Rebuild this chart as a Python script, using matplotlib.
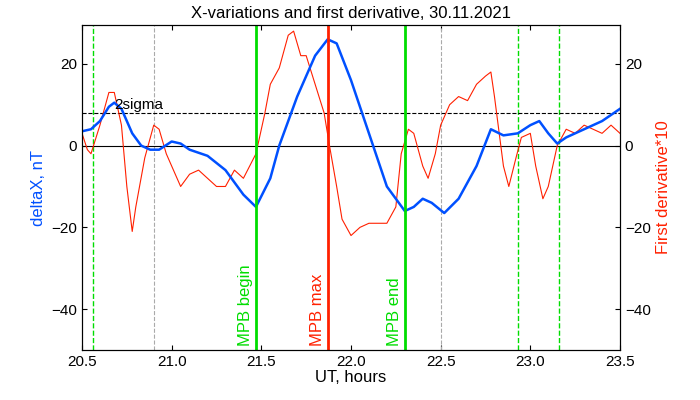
import matplotlib
matplotlib.use("Agg")
import matplotlib.pyplot as plt

plt.rcParams["font.family"] = ["Liberation Sans", "DejaVu Sans"]

# blue: deltaX, nT
dx_t = [20.5, 20.55, 20.6, 20.65, 20.68, 20.72, 20.78, 20.83, 20.88, 20.93, 21.0, 21.05,
        21.1, 21.2, 21.3, 21.4, 21.47, 21.55, 21.6, 21.7, 21.8, 21.87, 21.92, 22.0, 22.1,
        22.2, 22.3, 22.35, 22.4, 22.45, 22.52, 22.6, 22.7, 22.78, 22.85, 22.93, 23.0,
        23.05, 23.1, 23.15, 23.2, 23.3, 23.4, 23.5]
dx_v = [3.5, 4, 6, 9.5, 10.5, 9, 3, 0, -1, -1, 1, 0.5, -1, -2.5, -6, -12, -15, -8, 0,
        12, 22, 26, 25, 16, 3, -10, -16, -15, -13, -14, -16.5, -13, -5, 4, 2.5, 3, 5, 6,
        3, 0.5, 2, 4, 6, 9]

# red: first derivative * 10
dr_t = [20.5, 20.53, 20.55, 20.6, 20.65, 20.68, 20.72, 20.75, 20.78, 20.8, 20.85, 20.9,
        20.93, 20.97, 21.0, 21.05, 21.1, 21.15, 21.2, 21.25, 21.3, 21.35, 21.4, 21.47,
        21.52, 21.55, 21.6, 21.65, 21.68, 21.72, 21.75, 21.8, 21.85, 21.88, 21.92, 21.95,
        22.0, 22.05, 22.1, 22.2, 22.25, 22.28, 22.32, 22.35, 22.4, 22.43, 22.47, 22.5,
        22.55, 22.6, 22.65, 22.7, 22.75, 22.78, 22.8, 22.85, 22.88, 22.92, 22.95, 23.0,
        23.03, 23.07, 23.1, 23.15, 23.2, 23.25, 23.3, 23.35, 23.4, 23.45, 23.5]
dr_v = [3, -1, -2, 5, 13, 13, 5, -10, -21, -15, -3, 5, 4, -2, -5, -10, -7, -6, -8, -10,
        -10, -6, -8, -2, 8, 15, 19, 27, 28, 22, 22, 15, 8, 0, -10, -18, -22, -20, -19,
        -19, -15, -2, 4, 3, -5, -8, -2, 5, 10, 12, 11, 15, 17, 18, 12, -5, -10, -3, 2, 3,
        -5, -13, -10, 0, 4, 3, 5, 4, 3, 5, 3]

green_dash = [20.56, 22.93, 23.16]
gray_dash = [20.9, 22.5]
mpb_begin, mpb_max, mpb_end = 21.47, 21.87, 22.3
sigma2 = 8

fig = plt.figure(figsize=(7, 4), dpi=100)
ax = fig.add_axes([82 / 700, 50 / 400, 538 / 700, 325 / 400])
ax.set_xlim(20.5, 23.5)
ax.set_ylim(-50, 29.5)

for x in green_dash:
    ax.axvline(x, color="#00dd00", ls="--", lw=1)
for x in gray_dash:
    ax.axvline(x, color="#aaaaaa", ls="--", lw=0.8)
ax.axhline(0, color="black", lw=0.8)
ax.axhline(sigma2, color="black", ls="--", lw=0.8)
ax.text(20.68, sigma2 + 1, "2sigma", fontsize=11)

ax.plot(dr_t, dr_v, color="#ff2000", lw=0.8)
ax.plot(dx_t, dx_v, color="#0050ff", lw=1.8)

ax.axvline(mpb_begin, color="#00dd00", lw=2)
ax.axvline(mpb_max, color="#ff2000", lw=2)
ax.axvline(mpb_end, color="#00dd00", lw=2)
for x, s, c in [(mpb_begin, "MPB begin", "#00dd00"), (mpb_max, "MPB max", "#ff2000"),
                (mpb_end, "MPB end", "#00dd00")]:
    ax.text(x - 0.015, -49, s, rotation=90, color=c, ha="right", va="bottom", fontsize=12)

ax.set_xticks([20.5, 21.0, 21.5, 22.0, 22.5, 23.0, 23.5])
ax.set_xticklabels(["20.5", "21.0", "21.5", "22.0", "22.5", "23.0", "23.5"])
ax.set_yticks([-40, -20, 0, 20])
ax.tick_params(direction="in", labelsize=11, right=True, top=True)
ax.set_xlabel("UT, hours", fontsize=12, labelpad=1)
ax.set_ylabel("deltaX, nT", color="#0050ff", fontsize=12)
ax.set_title("X-variations and first derivative, 30.11.2021", fontsize=12, pad=5)

ax2 = ax.twinx()
ax2.set_ylim(-50, 29.5)
ax2.set_yticks([-40, -20, 0, 20])
ax2.tick_params(direction="in", labelsize=11)
ax2.set_ylabel("First derivative*10", color="#ff2000", fontsize=12)

fig.savefig("out.png")
